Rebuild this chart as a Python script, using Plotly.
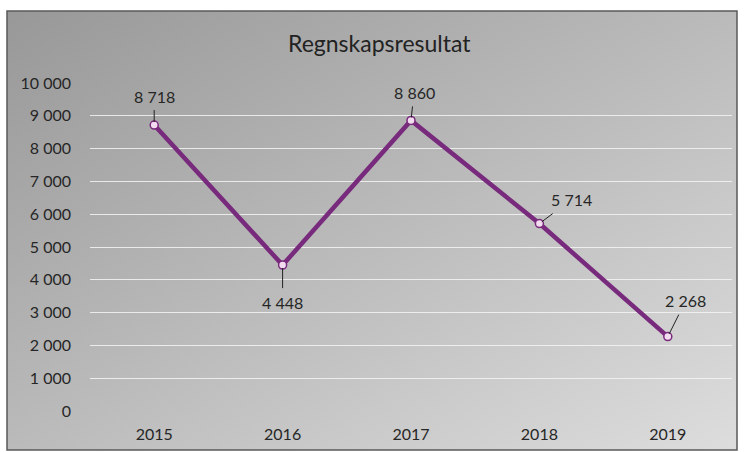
import base64
import plotly.graph_objects as go

years = ["2015", "2016", "2017", "2018", "2019"]
values = [8718, 4448, 8860, 5714, 2268]
label_texts = ["8 718", "4 448", "8 860", "5 714", "2 268"]
tick_vals = [0, 1000, 2000, 3000, 4000, 5000, 6000, 7000, 8000, 9000, 10000]
tick_text = ["0", "1 000", "2 000", "3 000", "4 000", "5 000", "6 000", "7 000", "8 000", "9 000", "10 000"]
# label offsets (pixels) from point
label_dx = [0, 0, 3, 32, 18]
label_dy = [-29, 37, -28, -24, -36]

FONT = "Lato"
TXT = "#262626"
PURPLE = "#782a7c"

W, H = 744, 452
L, R, T, B = 90, 12, 83, 41
pw, ph = W - L - R, H - T - B

svg = (
    '<svg xmlns="http://www.w3.org/2000/svg" width="100" height="100" preserveAspectRatio="none">'
    '<defs><linearGradient id="g" x1="0" y1="0" x2="1" y2="1">'
    '<stop offset="0" stop-color="#989898"/><stop offset="1" stop-color="#dddddd"/>'
    '</linearGradient></defs><rect width="100" height="100" fill="url(#g)"/></svg>'
)
src = "data:image/svg+xml;base64," + base64.b64encode(svg.encode()).decode()

fx0, fx1, fy0, fy1 = 7, 737, 11, 450
px = lambda x: (x - L) / pw
py = lambda y: (H - B - y) / ph

fig = go.Figure()
fig.add_trace(go.Scatter(
    x=years, y=values, mode="lines+markers",
    line=dict(color=PURPLE, width=4.5),
    marker=dict(size=8, color="#f4dcf0", line=dict(color=PURPLE, width=1.5)),
    hoverinfo="skip", showlegend=False,
))

annos = []
for i, (v, t, dx, dy) in enumerate(zip(values, label_texts, label_dx, label_dy)):
    annos.append(dict(
        x=i, y=v, xref="x", yref="y", text=t, showarrow=True,
        ax=dx, ay=dy, arrowhead=0, arrowwidth=1, arrowcolor="#222",
        standoff=3, borderpad=4,
        font=dict(family=FONT, size=16, color=TXT),
    ))
annos.append(dict(
    text="Regnskapsresultat", xref="paper", yref="paper",
    x=px(379), y=py(43), xanchor="center", yanchor="middle", showarrow=False,
    font=dict(family=FONT, size=23, color="#222"),
))

fig.update_layout(
    width=W, height=H,
    margin=dict(l=L, r=R, t=T, b=B, pad=0, autoexpand=False),
    paper_bgcolor="white", plot_bgcolor="rgba(0,0,0,0)",
    font=dict(family=FONT, size=16, color=TXT),
    images=[dict(
        source=src, xref="paper", yref="paper",
        x=px(fx0), y=py(fy0), sizex=px(fx1) - px(fx0), sizey=py(fy0) - py(fy1),
        xanchor="left", yanchor="top", sizing="stretch", layer="below",
    )],
    shapes=[dict(
        type="rect", xref="paper", yref="paper",
        x0=px(fx0), x1=px(fx1), y0=py(fy1), y1=py(fy0),
        line=dict(color="#5a5a5a", width=1.5), layer="above",
    )],
    annotations=annos,
    xaxis=dict(
        type="category", range=[-0.5, 4.5], showgrid=False, zeroline=False,
        showline=False, ticks="", ticklabelstandoff=12, automargin=False,
        tickfont=dict(family=FONT, size=16, color=TXT),
    ),
    yaxis=dict(
        range=[0, 10000], tickvals=tick_vals, ticktext=tick_text,
        showgrid=True, gridcolor="rgba(245,245,245,0.85)", gridwidth=1.2,
        zeroline=False, showline=False, ticks="", ticklabelstandoff=18,
        automargin=False, tickfont=dict(family=FONT, size=16, color=TXT),
    ),
)

fig.write_html("out.html", config={"displayModeBar": False},
               post_script="document.body.style.margin='0';")
